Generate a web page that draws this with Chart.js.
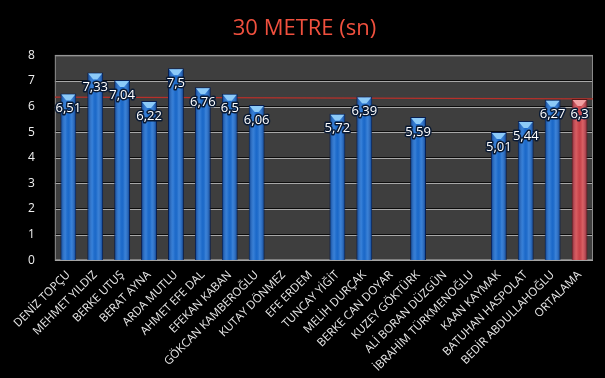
<!DOCTYPE html>
<html><head><meta charset="utf-8">
<script src="https://cdn.jsdelivr.net/npm/chart.js@4.4.0/dist/chart.umd.min.js"></script>
<style>html,body{margin:0;padding:0;background:#000;}#wrap{width:605px;height:378px;}</style>
</head><body><div id="wrap"><canvas id="c" width="605" height="378"></canvas></div>
<script>
const CATEGORIES = ["DENİZ TOPÇU","MEHMET YILDIZ","BERKE UTUŞ","BERAT AYNA","ARDA MUTLU","AHMET EFE DAL","EFEKAN KABAN","GÖKCAN KAMBEROĞLU","KUTAY DÖNMEZ","EFE ERDEM","TUNCAY YİĞİT","MELİH DURÇAK","BERKE CAN DOYAR","KUZEY GÖKTÜRK","ALİ BORAN DÜZGÜN","İBRAHİM TÜRKMENOĞLU","KAAN KAYMAK","BATUHAN HASPOLAT","BEDİR ABDULLAHOĞLU","ORTALAMA"];
const VALUES = [6.51,7.33,7.04,6.22,7.5,6.76,6.5,6.06,null,null,5.72,6.39,null,5.59,null,null,5.01,5.44,6.27,6.3];
const AVG_LINE_Y = [6.37,6.3];   // red reference line: value at left edge, value at right edge
const Y_TICKS = [0,1,2,3,4,5,6,7,8];

const barColors = CATEGORIES.map((c,i)=> i===CATEGORIES.length-1 ? '#d4474c' : '#1d6fd2');
const capColors = CATEGORIES.map((c,i)=> i===CATEGORIES.length-1 ? '#f2a0a2' : '#8ccaf8');
const borderColors = CATEGORIES.map((c,i)=> i===CATEGORIES.length-1 ? '#5a1414' : '#081e50');

const plotBg = {
  id:'plotBg',
  beforeDatasetsDraw(chart){
    const {ctx, chartArea:a} = chart;
    const ys = chart.scales.y;
    ctx.save();
    ctx.fillStyle = '#3e3e3e';
    ctx.fillRect(a.left,a.top,a.right-a.left,a.bottom-a.top);
    Y_TICKS.forEach(v=>{
      const py = Math.round(ys.getPixelForValue(v));
      ctx.fillStyle = '#0c0c0c';
      ctx.fillRect(a.left, py-1, a.right-a.left, 1);
      ctx.fillStyle = '#a8a8a8';
      ctx.fillRect(a.left, py, a.right-a.left, 1);
    });
    ctx.strokeStyle = '#8a8a8a';
    ctx.lineWidth = 1;
    ctx.strokeRect(a.left+0.5, a.top+0.5, a.right-a.left-1, a.bottom-a.top-1);
    ctx.strokeStyle = '#b8302a';
    ctx.lineWidth = 1.2;
    ctx.beginPath();
    ctx.moveTo(a.left, ys.getPixelForValue(AVG_LINE_Y[0]));
    ctx.lineTo(a.right, ys.getPixelForValue(AVG_LINE_Y[1]));
    ctx.stroke();
    ctx.restore();
  },
  afterDatasetsDraw(chart){
    const ctx = chart.ctx;
    const meta = chart.getDatasetMeta(0);
    ctx.save();
    meta.data.forEach((el,i)=>{
      if (VALUES[i]===null) return;
      const l = el.x - el.width/2 + 1, r = el.x + el.width/2 - 1;
      const top = el.y + 1, bot = el.base;
      const g = ctx.createLinearGradient(l,0,r,0);
      g.addColorStop(0,'rgba(0,0,40,0.30)');
      g.addColorStop(0.3,'rgba(255,255,255,0.10)');
      g.addColorStop(0.5,'rgba(0,0,40,0.05)');
      g.addColorStop(0.7,'rgba(255,255,255,0.12)');
      g.addColorStop(1,'rgba(0,0,40,0.30)');
      ctx.fillStyle = g;
      ctx.fillRect(l, top, r-l, bot-top);
      ctx.fillStyle = capColors[i];
      ctx.beginPath();
      ctx.moveTo(l, top);
      ctx.lineTo(r, top);
      ctx.lineTo(el.x + 2, top + 6);
      ctx.lineTo(el.x - 2, top + 6);
      ctx.closePath();
      ctx.fill();
    });
    ctx.font = '13px "Open Sans", sans-serif';
    ctx.textAlign = 'center';
    ctx.textBaseline = 'middle';
    ctx.lineJoin = 'round';
    meta.data.forEach((el,i)=>{
      const v = VALUES[i];
      if (v===null) return;
      const t = String(v).replace('.',',');
      ctx.lineWidth = 3;
      ctx.strokeStyle = '#0a1a33';
      ctx.strokeText(t, el.x, el.y+15);
      ctx.fillStyle = '#ffffff';
      ctx.fillText(t, el.x, el.y+15);
    });
    ctx.restore();
  }
};

new Chart(document.getElementById('c'), {
  type:'bar',
  data: {
    labels: CATEGORIES,
    datasets: [
      {
        data: VALUES,
        backgroundColor: barColors,
        borderColor: borderColors,
        borderWidth: 1,
        barPercentage: 0.62,
        categoryPercentage: 0.95
      }
    ]
  },
  options: {
    responsive:false,
    animation:false,
    plugins:{
      legend:{display:false},
      tooltip:{enabled:false},
      title:{
        display:true,
        text:'30 METRE (sn)',
        color:'#f0503e',
        font:{family:'"Open Sans", sans-serif', size:22, weight:'normal'},
        padding:{top:16,bottom:13}
      }
    },
    layout:{padding:{left:16,right:12,top:0,bottom:4}},
    scales:{
      x:{
        grid:{display:false},
        border:{display:false},
        ticks:{color:'#e8e8e8', font:{family:'"Open Sans", sans-serif', size:11.5}, minRotation:45, maxRotation:45, autoSkip:false, padding:0}
      },
      y:{
        min:0,max:8,
        afterBuildTicks(axis){ axis.ticks = Y_TICKS.map(v=>({value:v})); },
        grid:{display:false},
        border:{display:false},
        ticks:{color:'#f0f0f0', font:{family:'"Open Sans", sans-serif', size:12}, padding:12}
      }
    }
  },
  plugins:[plotBg]
});
</script></body></html>
